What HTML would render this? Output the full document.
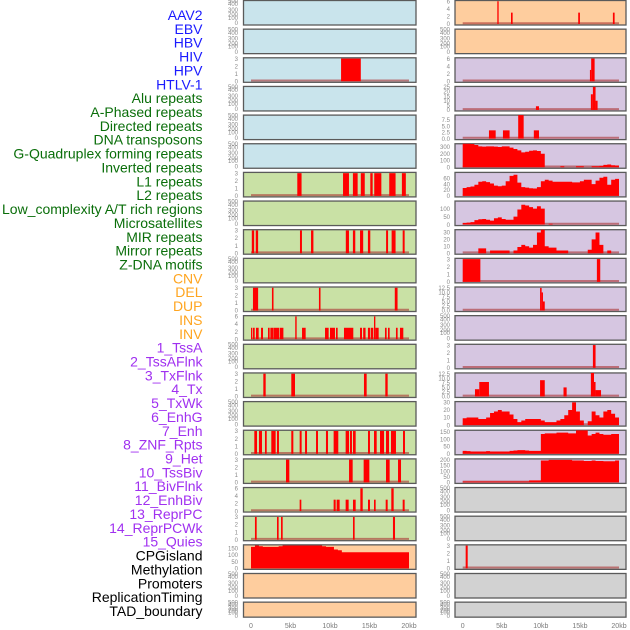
<!DOCTYPE html>
<html><head><meta charset="utf-8"><style>
html,body{margin:0;padding:0;background:#fff;}
svg{display:block;font-family:"Liberation Sans",sans-serif;}
</style></head><body>
<svg id="chart" width="630" height="630" viewBox="0 0 630 630" xmlns="http://www.w3.org/2000/svg">
<g id="labels"></g>
<g id="panels"></g>
<g id="xaxes"></g>
</svg>
<script>
// ---- data ----
const trackLabels = ["AAV2","EBV","HBV","HIV","HPV","HTLV-1","Alu repeats","A-Phased repeats","Directed repeats","DNA transposons","G-Quadruplex forming repeats","Inverted repeats","L1 repeats","L2 repeats","Low_complexity A/T rich regions","Microsatellites","MIR repeats","Mirror repeats","Z-DNA motifs","CNV","DEL","DUP","INS","INV","1_TssA","2_TssAFlnk","3_TxFlnk","4_Tx","5_TxWk","6_EnhG","7_Enh","8_ZNF_Rpts","9_Het","10_TssBiv","11_BivFlnk","12_EnhBiv","13_ReprPC","14_ReprPCWk","15_Quies","CPGisland","Methylation","Promoters","ReplicationTiming","TAD_boundary"];
const labelGroups = [0,0,0,0,0,0,1,1,1,1,1,1,1,1,1,1,1,1,1,2,2,2,2,2,3,3,3,3,3,3,3,3,3,3,3,3,3,3,3,4,4,4,4,4];
const xTickLabels = ["0","5kb","10kb","15kb","20kb"];
const xTickValues = [0,5,10,15,20];

// bar segments: [start_kb, end_kb, value]
const barsL2 = [[11.4,13.9,3]];
const barsL6 = [[5.86,6.4,3],[11.65,12.4,3],[12.9,13.5,3],[13.9,14.4,3],[15.1,15.4,3],[15.6,16.5,3],[17.5,18.3,3],[19.1,19.6,3]];
const barsL8 = [[0.1,0.4,3],[0.6,0.9,3],[6.2,6.45,3],[7.6,7.9,3],[12.0,12.4,3],[12.9,13.2,3],[13.8,14.2,3],[14.8,15.1,3],[17.1,17.35,3],[17.8,18.3,3],[19.2,19.45,3]];
const barsL10 = [[0.25,0.9,3],[2.65,2.85,3],[8.6,8.8,3],[18.2,18.55,3]];
const barsL11 = [[0,0.1,3],[0.25,0.47,3],[0.63,0.97,3],[1.27,1.52,3],[2.15,2.36,3],[2.45,2.83,3],[2.87,3.59,3],[3.67,4.1,3],[5.6,5.78,6],[6.46,6.92,3],[9.37,9.83,3],[10.0,10.63,3],[10.76,10.97,3],[11.77,12.95,3],[13.8,14.05,3],[14.2,14.5,3],[14.8,15.06,3],[15.15,15.48,3],[15.57,15.74,6],[15.74,16.16,3],[16.96,17.17,3],[17.34,17.55,3],[18.35,18.56,3],[18.86,19.28,3]];
const barsL13 = [[1.56,1.86,3],[5.1,5.57,3],[14.3,14.64,3],[17.0,17.3,3]];
const barsL15 = [[0.42,0.76,3],[1.01,1.39,3],[1.77,1.99,3],[2.57,3.12,3],[3.29,3.54,3],[5.1,5.36,3],[6.16,6.41,3],[6.84,7.09,3],[8.23,8.48,3],[9.49,9.75,3],[10.46,11.05,3],[11.98,12.41,3],[12.53,12.78,3],[12.91,13.25,3],[14.81,15.06,3],[15.57,15.91,3],[16.33,16.84,3],[17.09,17.47,3],[17.72,18.35,3],[19.24,19.49,3]];
const barsL16 = [[4.43,4.85,3],[12.41,12.87,3],[14.26,14.98,3],[17.09,17.55,3],[18.61,18.99,3]];
const barsL17 = [[6.16,6.37,3],[10.46,10.72,3],[10.84,11.22,3],[11.98,12.36,3],[12.91,13.25,3],[13.84,14.14,6],[14.81,15.06,3],[15.57,15.78,3],[17.05,17.3,3],[17.76,18.06,6],[19.2,19.45,3]];
const barsL18 = [[0.5,0.72,3],[3.29,3.5,3],[3.8,4.01,3],[12.91,13.12,3],[17.97,18.23,3]];
const barsR0 = [[4.43,4.6,6],[6.18,6.39,3],[14.78,15.0,3],[19.22,19.44,3]];
const barsR2 = [[16.28,16.44,3],[16.44,16.88,6]];
const barsR3 = [[9.37,9.76,4],[16.4,16.66,17],[16.66,17.0,25],[17.0,17.26,10]];
const barsR4 = [[3.36,4.22,3.3],[5.15,6.0,3.3],[7.1,7.8,10],[9.1,9.76,3.3]];
const barsR9 = [[0,2.26,3],[17.17,17.6,3]];
const barsR10 = [[9.9,10.1,12.5],[10.1,10.27,10],[10.27,10.5,5]];
const barsR12 = [[16.66,17.0,3]];
const barsR13 = [[1.57,2.12,4],[2.12,3.36,8],[9.9,10.5,9],[12.9,13.3,5],[16.4,16.8,13],[16.8,17.0,8],[17.0,17.7,3.5]];
const barsR19 = [[0.38,0.64,3]];

// area series: 40 bins of 0.5 kb
const areaL19 = [160,170,165,160,160,160,160,165,170,170,170,170,170,170,170,170,170,170,165,160,160,140,135,120,120,120,120,120,120,120,120,120,120,120,120,120,120,120,120,120];
const areaR5 = [350,350,345,330,310,305,310,310,305,300,310,310,290,270,250,220,230,245,250,240,200,0,0,0,0,15,0,0,0,15,15,0,0,15,15,20,35,40,30,25];
const areaR6 = [27,30,32,38,48,50,47,42,35,33,35,50,68,72,45,30,28,26,25,30,50,55,52,48,48,48,48,48,46,46,50,55,55,40,52,62,65,38,55,58];
const areaR7 = [10,12,15,28,33,35,30,25,40,45,35,30,30,50,95,125,120,110,100,115,100,0,5,0,0,0,0,0,0,0,0,0,0,0,0,0,0,0,0,0];
const areaR8 = [0,0,0,0,7,7,0,4,4,4,4,4,0,4,9,12,10,8,12,30,35,10,8,8,4,4,4,0,0,0,0,0,5,20,30,12,0,4,0,0];
const areaR14 = [9,10,10,10,8,8,10,16,18,20,18,18,14,8,4,6,8,8,8,8,6,4,4,4,6,8,13,20,30,18,6,0,5,18,13,10,18,20,15,10];
const areaR15 = [20,18,15,15,15,15,18,15,15,15,15,15,20,22,25,25,22,20,20,20,135,140,140,140,145,145,145,140,140,160,160,160,125,135,145,135,130,130,135,135];
const areaR16 = [8,8,8,8,8,8,8,8,8,8,8,8,8,8,8,8,8,18,18,18,195,195,200,200,200,200,200,200,195,195,195,190,190,195,190,190,188,188,188,195];

// y tick label sets
const ticks3 = ["0","1","2","3"];
const ticks6 = ["0","2","4","6"];
const ticks25 = ["0","5","10","15","20","25"];
const ticks75 = ["0.0","2.5","5.0","7.5"];
const ticks125 = ["0.0","2.5","5.0","7.5","10.0","12.5"];
const ticks300 = ["0","100","200","300"];
const ticks60 = ["0","20","40","60"];
const ticks100 = ["0","50","100"];
const ticks30 = ["0","10","20","30"];
const ticks150 = ["0","50","100","150"];
const ticks200 = ["0","50","100","150","200"];
const ticksEmpty = ["500","400","300","200","100","0"];

// panel definitions: [column, row, bg, kind, data, ticks, ymax]
const panelDefs = [
 [0,0,"blue","empty"],[0,1,"blue","empty"],[0,2,"blue","bars",barsL2,ticks3,3.1],[0,3,"blue","empty"],[0,4,"blue","empty"],[0,5,"blue","empty"],
 [0,6,"green","bars",barsL6,ticks3,3.1],[0,7,"green","empty"],[0,8,"green","bars",barsL8,ticks3,3.1],[0,9,"green","empty"],
 [0,10,"green","bars",barsL10,ticks3,3.1],[0,11,"green","bars",barsL11,ticks6,6.2],[0,12,"green","empty"],[0,13,"green","bars",barsL13,ticks3,3.1],
 [0,14,"green","empty"],[0,15,"green","bars",barsL15,ticks3,3.1],[0,16,"green","bars",barsL16,ticks3,3.1],[0,17,"green","bars",barsL17,ticks6,6.2],
 [0,18,"green","bars",barsL18,ticks3,3.1],[0,19,"orange","area",areaL19,ticks150,175],[0,20,"orange","empty"],[0,21,"orange","empty"],
 [1,0,"orange","bars",barsR0,ticks6,6.2],[1,1,"orange","empty"],[1,2,"purple","bars",barsR2,ticks6,6.2],[1,3,"purple","bars",barsR3,ticks25,25.5],
 [1,4,"purple","bars",barsR4,ticks75,9.4],[1,5,"purple","area",areaR5,ticks300,348],[1,6,"purple","area",areaR6,ticks60,80],[1,7,"purple","area",areaR7,ticks100,148],
 [1,8,"purple","area",areaR8,ticks30,34],[1,9,"purple","bars",barsR9,ticks3,3.1],[1,10,"purple","bars",barsR10,ticks125,13],[1,11,"purple","empty"],
 [1,12,"purple","bars",barsR12,ticks3,3.1],[1,13,"purple","bars",barsR13,ticks125,13],[1,14,"purple","area",areaR14,ticks30,31],[1,15,"purple","area",areaR15,ticks150,161],
 [1,16,"purple","area",areaR16,ticks200,209],[1,17,"grey","empty"],[1,18,"grey","empty"],[1,19,"grey","bars",barsR19,ticks3,3.1],[1,20,"grey","empty"],[1,21,"grey","empty"]
];

// ---- styling / layout ----
const NS = "http://www.w3.org/2000/svg";
const groupColors = ["#1a1aff","#0a6e0a","#ffa520","#a030f0","#000000"];
const bgColors = {blue:"#c9e4ec",green:"#c9e1a5",orange:"#fecd9e",purple:"#d6c6e1",grey:"#d2d2d2"};
const cols = [{x:243.5,w:172.5,x0:251,x1:409,tickR:238},{x:455,w:171,x0:462.7,x1:619,tickR:450}];
const rowPitch = 28.65, panelH = 24.5;
function mk(tag, attrs, parent){const e=document.createElementNS(NS,tag);for(const k in attrs)e.setAttribute(k,attrs[k]);parent.appendChild(e);return e;}

const labG = document.getElementById("labels");
trackLabels.forEach((t,i)=>{
  const e = mk("text",{x:202.5,y:(20+i*13.86).toFixed(2),"text-anchor":"end","font-size":"14",fill:groupColors[labelGroups[i]]},labG);
  
  
  e.textContent = t;
});

const panG = document.getElementById("panels");
panelDefs.forEach(def=>{
  const [c,r,bg,kind,data,ticks,ymax] = def;
  const col = cols[c];
  const top = r*rowPitch;
  const h = r===21 ? 15 : panelH;
  const g = mk("g",{},panG);
  
  
  const bgR = mk("rect",{x:col.x,y:top+0.5,width:col.w,height:h,fill:bgColors[bg],stroke:"#5a5a5a","stroke-width":"1.3"},g);
  
  
  const xs = kb=>col.x0 + (col.x1-col.x0)*kb/20;
  const y0 = top + h - 0.5;
  if(kind==="empty"){
    const offs=[0.7,4,9.7,14.4,17.7,23];
    ticksEmpty.forEach((t,k)=>{
      const e = mk("text",{x:col.tickR,y:(top+offs[k]*h/panelH+2.2).toFixed(2),"text-anchor":"end","font-size":"6",fill:"#8a8a8a"},g);
      
      
      e.textContent=t;
    });
    return;
  }
  const ys = v=>y0 - (y0-top-0.5)*Math.min(v,ymax)/ymax;
  const tickStep = parseFloat(ticks[1]);
  ticks.forEach(t=>{
    const e = mk("text",{x:col.tickR,y:(ys(parseFloat(t))+2.2).toFixed(2),"text-anchor":"end","font-size":"6",fill:"#8a8a8a"},g);
    
    
    e.textContent=t;
  });
  const base = mk("line",{x1:xs(0),x2:xs(20),y1:y0-0.8,y2:y0-0.8,stroke:"rgba(170,50,50,0.6)","stroke-width":"2"},g);
  
  
  if(kind==="bars"){
    data.forEach(b=>{
      const xa=xs(b[0]), xb=xs(b[1]);
      const w=Math.max(xb-xa,1.3);
      const e = mk("rect",{x:xa.toFixed(2),y:ys(b[2]).toFixed(2),width:w.toFixed(2),height:(y0-ys(b[2])).toFixed(2),fill:"#ff0000"},g);
      
      
    });
  } else {
    let d = "M"+xs(0).toFixed(2)+","+y0;
    data.forEach((v,k)=>{
      const xa=xs(k*0.5), xb=xs((k+1)*0.5), yv=ys(v).toFixed(2);
      d += " L"+xa.toFixed(2)+","+yv+" L"+xb.toFixed(2)+","+yv;
    });
    d += " L"+xs(20).toFixed(2)+","+y0+" Z";
    const e = mk("path",{d:d,fill:"#ff0000"},g);
    
    
  }
});

const axG = document.getElementById("xaxes");
cols.forEach(col=>{
  xTickValues.forEach((v,k)=>{
    const e = mk("text",{x:(col.x0+(col.x1-col.x0)*v/20).toFixed(2),y:628,"text-anchor":"middle","font-size":"7",fill:"#7a7a7a"},axG);
    
    
    e.textContent = xTickLabels[k];
  });
});
</script>
</body></html>
